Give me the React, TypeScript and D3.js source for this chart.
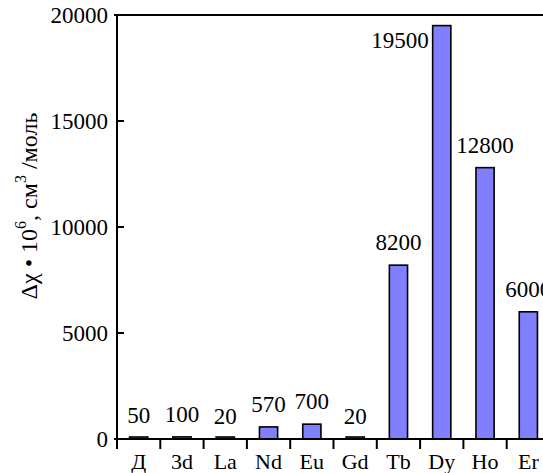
import React, { useEffect, useRef } from 'react'
import * as d3 from 'd3'

const categories = ['Д', '3d', 'La', 'Nd', 'Eu', 'Gd', 'Tb', 'Dy', 'Ho', 'Er']
const values = [50, 100, 20, 570, 700, 20, 8200, 19500, 12800, 6000]
const yTicks = [0, 5000, 10000, 15000, 20000]

const W = 543
const H = 473

const App = () => {
  const ref = useRef<SVGSVGElement>(null)
  const margin = { top: 15, left: 117, bottom: 34 }

  useEffect(() => {
    const svg = d3.select(ref.current)
    svg.selectAll('*').remove()

    const x = d3.scaleBand<string>()
      .domain(categories)
      .range([margin.left, margin.left + 43.3 * categories.length])
      .paddingInner(0.58)
      .paddingOuter(0.29)

    const y = d3.scaleLinear()
      .domain([0, 20000])
      .range([H - margin.bottom, margin.top])

    const step = x.step()
    const x0 = margin.left
    const x1 = margin.left + step * categories.length

    // bars (tiny ones show up as a thick dark line)
    svg.append('g')
      .selectAll('rect')
      .data(values)
      .join('rect')
      .attr('x', (d, i) => x(categories[i])!)
      .attr('width', x.bandwidth())
      .attr('y', d => Math.min(y(d), y(0) - 2))
      .attr('height', d => Math.max(y(0) - y(d), 2))
      .attr('fill', '#8080ff')
      .attr('stroke', '#000')
      .attr('stroke-width', 1.6)

    // value labels
    const maxV = d3.max(values)!
    svg.append('g')
      .selectAll('text')
      .data(values)
      .join('text')
      .attr('x', (d, i) => d === maxV ? x(categories[i])! - 4 : x(categories[i])! + x.bandwidth() / 2)
      .attr('y', d => d === maxV ? y(d) + 22 : y(d) - 15)
      .attr('text-anchor', d => d === maxV ? 'end' : 'middle')
      .attr('font-size', 23)
      .text(d => d)

    // axes lines
    svg.append('line')
      .attr('x1', x0 - 3).attr('x2', x1)
      .attr('y1', y(0)).attr('y2', y(0))
      .attr('stroke', '#000').attr('stroke-width', 2)
    svg.append('line')
      .attr('x1', x0 - 3).attr('x2', x1)
      .attr('y1', y(20000)).attr('y2', y(20000))
      .attr('stroke', '#000').attr('stroke-width', 2)
    svg.append('line')
      .attr('x1', x0).attr('x2', x0)
      .attr('y1', y(20000)).attr('y2', y(0) + 10)
      .attr('stroke', '#000').attr('stroke-width', 2)

    // y ticks
    const yg = svg.append('g')
    yg.selectAll('line')
      .data(yTicks.slice(1, -1))
      .join('line')
      .attr('x1', x0).attr('x2', x0 + 7)
      .attr('y1', d => y(d)).attr('y2', d => y(d))
      .attr('stroke', '#000').attr('stroke-width', 2)
    yg.selectAll('text')
      .data(yTicks)
      .join('text')
      .attr('x', x0 - 9)
      .attr('y', d => y(d) + 8)
      .attr('text-anchor', 'end')
      .attr('font-size', 23)
      .text(d => d)

    // x ticks
    const xg = svg.append('g')
    xg.selectAll('line')
      .data(d3.range(1, categories.length + 1))
      .join('line')
      .attr('x1', i => x0 + step * i).attr('x2', i => x0 + step * i)
      .attr('y1', y(0)).attr('y2', y(0) + 10)
      .attr('stroke', '#000').attr('stroke-width', 2)
    xg.selectAll('text')
      .data(categories)
      .join('text')
      .attr('x', d => x(d)! + x.bandwidth() / 2)
      .attr('y', H - 4)
      .attr('text-anchor', 'middle')
      .attr('font-size', 22)
      .text(d => d)

    // y label
    const lbl = svg.append('text')
      .attr('transform', `translate(37,${(y(0) + y(20000)) / 2 - 21}) rotate(-90)`)
      .attr('text-anchor', 'middle')
      .attr('font-size', 24)
    lbl.append('tspan').text('Δχ • 10')
    lbl.append('tspan').attr('dy', -11).attr('font-size', 16).text('6')
    lbl.append('tspan').attr('dy', 11).text(', см')
    lbl.append('tspan').attr('dy', -11).attr('font-size', 16).text('3')
    lbl.append('tspan').attr('dy', 11).text(' /моль')
  }, [])

  return (
    <svg width={W} height={H} ref={ref}
      style={{ position: 'absolute', left: 0, top: 0, background: '#fff', fontFamily: "'Liberation Serif', 'Times New Roman', 'DejaVu Serif', serif" }} />
  )
}

export default App
